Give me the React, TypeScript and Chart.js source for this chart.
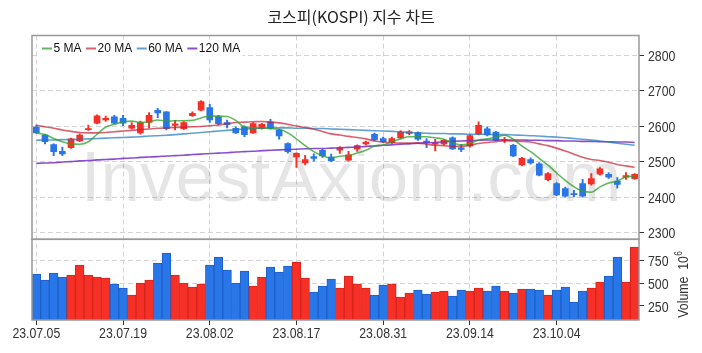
import React, { useEffect, useRef } from 'react';
import { Chart, registerables } from 'chart.js';

Chart.register(...registerables);

const chartTitle = '코스피(KOSPI) 지수 차트';

const dates = [
  '23.07.05', '23.07.06', '23.07.07', '23.07.10', '23.07.11', '23.07.12', '23.07.13', '23.07.14', '23.07.17', '23.07.18',
  '23.07.19', '23.07.20', '23.07.21', '23.07.24', '23.07.25', '23.07.26', '23.07.27', '23.07.28', '23.07.31', '23.08.01',
  '23.08.02', '23.08.03', '23.08.04', '23.08.07', '23.08.08', '23.08.09', '23.08.10', '23.08.11', '23.08.14', '23.08.16',
  '23.08.17', '23.08.18', '23.08.21', '23.08.22', '23.08.23', '23.08.24', '23.08.25', '23.08.28', '23.08.29', '23.08.30',
  '23.08.31', '23.09.01', '23.09.04', '23.09.05', '23.09.06', '23.09.07', '23.09.08', '23.09.11', '23.09.12', '23.09.13',
  '23.09.14', '23.09.15', '23.09.18', '23.09.19', '23.09.20', '23.09.21', '23.09.22', '23.09.25', '23.09.26', '23.09.27',
  '23.10.04', '23.10.05', '23.10.06', '23.10.10', '23.10.11', '23.10.12', '23.10.13', '23.10.16', '23.10.17', '23.10.18',
];

const xTickLabels = ['23.07.05', '23.07.19', '23.08.02', '23.08.17', '23.08.31', '23.09.14', '23.10.04'];
const priceTicks = [2300, 2400, 2500, 2600, 2700, 2800];
const volumeTicks = [250, 500, 750];

const openP = [
  2597, 2575, 2548, 2529, 2539, 2558, 2590, 2608, 2617, 2626,
  2622, 2594, 2581, 2610, 2644, 2640, 2602, 2593, 2629, 2645,
  2652, 2626, 2610, 2594, 2598, 2581, 2593, 2612, 2589, 2551,
  2513, 2496, 2514, 2532, 2513, 2532, 2504, 2535, 2550, 2577,
  2565, 2553, 2567, 2579, 2581, 2558, 2549, 2550, 2567, 2539,
  2544, 2577, 2592, 2583, 2559, 2546, 2491, 2506, 2494, 2449,
  2438, 2424, 2410, 2438, 2437, 2465, 2464, 2445, 2456, 2452,
];
const highP = [
  2603, 2577, 2550, 2541, 2566, 2578, 2603, 2632, 2628, 2630,
  2630, 2610, 2614, 2638, 2650, 2641, 2616, 2613, 2640, 2672,
  2661, 2630, 2617, 2598, 2601, 2610, 2608, 2619, 2591, 2553,
  2525, 2518, 2522, 2535, 2521, 2542, 2529, 2547, 2558, 2580,
  2569, 2569, 2587, 2587, 2584, 2565, 2563, 2563, 2570, 2549,
  2576, 2612, 2598, 2585, 2568, 2549, 2512, 2511, 2497, 2469,
  2441, 2428, 2419, 2450, 2466, 2483, 2469, 2455, 2469, 2466,
];
const lowP = [
  2579, 2550, 2517, 2517, 2537, 2556, 2588, 2606, 2613, 2606,
  2601, 2591, 2577, 2595, 2624, 2589, 2589, 2590, 2627, 2643,
  2610, 2603, 2595, 2579, 2570, 2579, 2591, 2591, 2563, 2524,
  2484, 2491, 2501, 2512, 2500, 2523, 2501, 2529, 2547, 2558,
  2553, 2551, 2565, 2576, 2560, 2539, 2530, 2546, 2534, 2528,
  2541, 2575, 2572, 2558, 2553, 2514, 2488, 2493, 2460, 2446,
  2404, 2400, 2401, 2400, 2434, 2462, 2453, 2425, 2450, 2450,
];
const closeP = [
  2581, 2556, 2528, 2522, 2564, 2575, 2593, 2629, 2622, 2608,
  2608, 2602, 2610, 2630, 2637, 2593, 2606, 2610, 2636, 2669,
  2617, 2607, 2604, 2581, 2576, 2607, 2605, 2594, 2572, 2528,
  2523, 2506, 2509, 2516, 2503, 2539, 2519, 2545, 2555, 2561,
  2556, 2565, 2583, 2584, 2563, 2553, 2553, 2560, 2536, 2534,
  2573, 2602, 2575, 2560, 2561, 2516, 2509, 2496, 2462, 2466,
  2406, 2403, 2407, 2403, 2452, 2480, 2456, 2436, 2461, 2464,
];

// volume in millions of shares
const volume = [
  602, 536, 613, 569, 591, 701, 591, 569, 558, 492,
  448, 371, 503, 536, 723, 833, 591, 503, 459, 492,
  701, 789, 646, 503, 635, 470, 569, 679, 624, 690,
  734, 558, 404, 470, 547, 448, 580, 492, 448, 371,
  481, 492, 349, 393, 426, 382, 404, 415, 360, 426,
  415, 448, 415, 470, 415, 393, 437, 437, 426, 371,
  426, 459, 294, 415, 448, 514, 580, 789, 514, 900,
];

const ma5 = [
  2581, 2576, 2565, 2556, 2550, 2549, 2556, 2577, 2597, 2605,
  2612, 2614, 2610, 2612, 2617, 2614, 2615, 2615, 2616, 2623,
  2628, 2628, 2627, 2616, 2597, 2595, 2595, 2593, 2591, 2581,
  2564, 2545, 2528, 2516, 2511, 2515, 2517, 2524, 2532, 2544,
  2547, 2556, 2564, 2570, 2570, 2570, 2567, 2563, 2553, 2547,
  2551, 2561, 2564, 2569, 2574, 2563, 2544, 2528, 2509, 2490,
  2468, 2447, 2429, 2417, 2414, 2429, 2440, 2445, 2457, 2459,
];
const ma20 = [
  2602, 2598, 2594, 2589, 2585, 2582, 2581, 2581, 2582, 2584,
  2586, 2588, 2590, 2592, 2594, 2595, 2596, 2597, 2598, 2599,
  2601, 2603, 2607, 2610, 2611, 2612, 2613, 2611, 2609, 2605,
  2600, 2596, 2591, 2585, 2578, 2575, 2571, 2568, 2564, 2558,
  2555, 2553, 2552, 2552, 2552, 2549, 2546, 2545, 2543, 2543,
  2546, 2551, 2554, 2556, 2559, 2558, 2557, 2555, 2550, 2545,
  2538, 2530, 2521, 2512, 2506, 2503, 2498, 2492, 2488, 2484,
];
const ma60 = [
  2560, 2561, 2561, 2562, 2562, 2563, 2564, 2565, 2566, 2567,
  2568, 2569, 2570, 2572, 2573, 2574, 2576, 2578, 2580, 2582,
  2584, 2586, 2588, 2590, 2592, 2593, 2594, 2595, 2595, 2595,
  2594, 2594, 2593, 2593, 2592, 2591, 2590, 2589, 2588, 2587,
  2586, 2585, 2584, 2582, 2581, 2580, 2579, 2579, 2578, 2578,
  2577, 2577, 2577, 2576, 2576, 2575, 2574, 2573, 2572, 2570,
  2569, 2567, 2565, 2563, 2561, 2558, 2555, 2552, 2549, 2546,
];
const ma120 = [
  2495, 2496, 2497, 2499, 2500, 2502, 2503, 2505, 2506, 2507,
  2509, 2510, 2512, 2513, 2514, 2516, 2517, 2518, 2520, 2521,
  2523, 2524, 2525, 2527, 2528, 2529, 2531, 2532, 2533, 2534,
  2535, 2536, 2537, 2537, 2538, 2539, 2540, 2541, 2543, 2544,
  2546, 2547, 2549, 2550, 2552, 2553, 2554, 2556, 2557, 2558,
  2559, 2560, 2561, 2561, 2561, 2561, 2561, 2560, 2560, 2559,
  2559, 2558, 2558, 2557, 2557, 2556, 2556, 2555, 2555, 2554,
];

const maNames = ['5 MA', '20 MA', '60 MA', '120 MA'];
const maColors = ['rgba(44,160,44,0.75)', 'rgba(200,30,50,0.7)', 'rgba(31,119,190,0.7)', 'rgba(118,48,196,0.85)'];

const UP = 'rgb(246,48,38)';
const DOWN = 'rgb(40,118,232)';
const UP_EDGE = 'rgb(214,36,28)';
const DOWN_EDGE = 'rgb(30,96,200)';
const SANS = '"Liberation Sans", Arial, sans-serif';
const SQUEEZE = 0.82;

function drawCondensed(ctx: CanvasRenderingContext2D, text: string, x: number, y: number, align: CanvasTextAlign, baseline: CanvasTextBaseline) {
  ctx.save();
  ctx.translate(x, y);
  ctx.scale(SQUEEZE, 1);
  ctx.textAlign = align;
  ctx.textBaseline = baseline;
  ctx.fillText(text, 0, 0);
  ctx.restore();
}

const decorPlugin = {
  id: 'decor',
  beforeDatasetsDraw(chart: any) {
    const { ctx } = chart;
    ctx.save();
    ctx.font = '71px ' + SANS;
    ctx.fillStyle = 'rgba(0,0,0,0.1)';
    ctx.textAlign = 'center';
    ctx.textBaseline = 'alphabetic';
    ctx.fillText('InvestAxiom.com', chart.width / 2, 201);
    ctx.restore();
  },
  afterDatasetsDraw(chart: any) {
    const { ctx, chartArea } = chart;
    const y = chart.scales.y;
    const y2 = chart.scales.y2;
    ctx.save();
    ctx.strokeStyle = '#999';
    ctx.lineWidth = 1.5;
    ctx.strokeRect(chartArea.left, y.top, chartArea.right - chartArea.left, y.bottom - y.top);
    ctx.strokeRect(chartArea.left, y2.top, chartArea.right - chartArea.left, y2.bottom - y2.top);
    ctx.restore();
  },
  afterDraw(chart: any) {
    const { ctx, chartArea } = chart;
    ctx.save();
    // title
    ctx.font = '16px "Noto Sans CJK KR", sans-serif';
    ctx.fillStyle = '#222';
    ctx.textAlign = 'center';
    ctx.textBaseline = 'middle';
    ctx.fillText(chartTitle, chart.width / 2, 17);

    // tick labels (condensed face)
    ctx.font = '15px ' + SANS;
    ctx.fillStyle = '#333';
    const xs = chart.scales.x;
    xs.ticks.forEach((t: any, i: number) => {
      drawCondensed(ctx, dates[t.value], xs.getPixelForTick(i), 326, 'center', 'top');
    });
    [chart.scales.y, chart.scales.y2].forEach((s: any) => {
      s.ticks.forEach((t: any, i: number) => {
        drawCondensed(ctx, String(t.value), s.left + 9, s.getPixelForTick(i) + 1.5, 'left', 'middle');
      });
    });

    // legend
    ctx.font = '12px ' + SANS;
    ctx.textAlign = 'left';
    ctx.textBaseline = 'middle';
    let lx = chartArea.left + 10;
    const ly = chartArea.top + 13;
    let total = 0;
    maNames.forEach((n) => { total += 11.5 + ctx.measureText(n).width + 4.5; });
    ctx.fillStyle = 'rgba(255,255,255,0.85)';
    ctx.fillRect(lx - 4, ly - 9, total + 2, 18);
    maNames.forEach((n, i) => {
      ctx.strokeStyle = maColors[i];
      ctx.lineWidth = 2;
      ctx.beginPath();
      ctx.moveTo(lx, ly);
      ctx.lineTo(lx + 10, ly);
      ctx.stroke();
      lx += 11.5;
      ctx.fillStyle = '#111';
      ctx.fillText(n, lx, ly);
      lx += ctx.measureText(n).width + 4.5;
    });

    // volume axis title
    const y2 = chart.scales.y2;
    ctx.translate(688, (y2.top + y2.bottom) / 2 + 5);
    ctx.rotate(-Math.PI / 2);
    ctx.scale(SQUEEZE, 1);
    ctx.fillStyle = '#333';
    ctx.textAlign = 'left';
    ctx.textBaseline = 'alphabetic';
    ctx.font = '15px ' + SANS;
    const main = 'Volume  10';
    const w = ctx.measureText(main).width;
    ctx.font = '10px ' + SANS;
    const sw = ctx.measureText('6').width;
    const start = -(w + sw) / 2;
    ctx.font = '15px ' + SANS;
    ctx.fillText(main, start, 0);
    ctx.font = '10px ' + SANS;
    ctx.fillText('6', start + w + 0.5, -6);
    ctx.restore();
  },
};

export default function App() {
  const ref = useRef<HTMLCanvasElement>(null);

  useEffect(() => {
    const up = closeP.map((c, i) => c >= openP[i]);
    const fill = up.map((u) => (u ? UP : DOWN));
    const edge = up.map((u) => (u ? UP_EDGE : DOWN_EDGE));

    const yGrid = {
      color: '#d4d4d4',
      lineWidth: 1,
      tickColor: '#333',
      tickLength: 5,
      tickWidth: 1,
    };

    const chart = new Chart(ref.current as HTMLCanvasElement, {
      type: 'bar',
      data: {
        labels: dates,
        datasets: [
          ...[ma5, ma20, ma60, ma120].map((d, i) => ({
            type: 'line' as const,
            label: maNames[i],
            data: d,
            yAxisID: 'y',
            borderColor: maColors[i],
            borderWidth: 1.6,
            pointRadius: 0,
            cubicInterpolationMode: 'monotone' as const,
            fill: false,
            order: i,
          })),
          {
            type: 'bar' as const,
            label: 'body',
            data: openP.map((o, i) => [o, closeP[i]]),
            yAxisID: 'y',
            backgroundColor: fill,
            barThickness: 6,
            minBarLength: 1,
            grouped: false,
            order: 5,
          },
          {
            type: 'bar' as const,
            label: 'wick',
            data: lowP.map((l, i) => [l, highP[i]]),
            yAxisID: 'y',
            backgroundColor: fill,
            barThickness: 1.3,
            grouped: false,
            order: 6,
          },
          {
            type: 'bar' as const,
            label: 'volume',
            data: volume,
            yAxisID: 'y2',
            backgroundColor: fill,
            borderColor: edge,
            borderWidth: 1,
            barPercentage: 1,
            categoryPercentage: 1,
            grouped: false,
            order: 7,
          },
        ] as any,
      },
      options: {
        animation: false,
        responsive: false,
        layout: { padding: { left: 32, top: 35.5, right: 0, bottom: 0 } },
        plugins: {
          legend: { display: false },
          tooltip: { enabled: false },
          title: { display: false },
        },
        scales: {
          x: {
            type: 'category',
            offset: true,
            grid: { offset: false, color: '#d4d4d4', lineWidth: 1, tickColor: '#333', tickLength: 5, tickWidth: 1 },
            border: { display: false, dash: [5, 3] },
            ticks: { display: false, autoSkip: false, maxRotation: 0, minRotation: 0 },
            afterBuildTicks: (s: any) => {
              s.ticks = s.ticks.filter((t: any) => xTickLabels.includes(dates[t.value]));
            },
            afterFit: (s: any) => { s.height = 33; },
          },
          y: {
            type: 'linear',
            position: 'right',
            stack: 'panels',
            stackWeight: 203.8,
            min: 2281.4,
            max: 2854.9,
            bounds: 'data',
            grid: yGrid,
            border: { display: false, dash: [5, 3] },
            ticks: { display: false },
            afterBuildTicks: (s: any) => { s.ticks = priceTicks.map((v) => ({ value: v })); },
            afterFit: (s: any) => { s.width = 63; },
          },
          y2: {
            type: 'linear',
            position: 'right',
            stack: 'panels',
            stackWeight: 80.7,
            min: 95.5,
            max: 986,
            bounds: 'data',
            grid: yGrid,
            border: { display: false, dash: [5, 3] },
            ticks: { display: false },
            afterBuildTicks: (s: any) => { s.ticks = volumeTicks.map((v) => ({ value: v })); },
            afterFit: (s: any) => { s.width = 63; },
          },
        } as any,
      },
      plugins: [decorPlugin],
    });
    return () => chart.destroy();
  }, []);

  return (
    <div style={{ position: 'fixed', left: 0, top: 0, width: 702, height: 353, background: '#fff' }}>
      <canvas ref={ref} width={702} height={353} style={{ display: 'block', width: 702, height: 353 }} />
    </div>
  );
}
